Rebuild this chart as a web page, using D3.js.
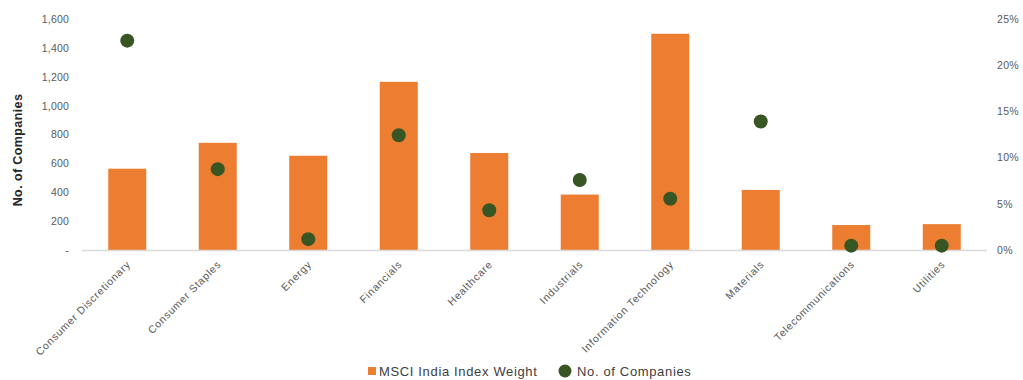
<!DOCTYPE html>
<html>
<head>
<meta charset="utf-8">
<script src="https://cdn.jsdelivr.net/npm/d3@7"></script>
<style>
  html, body { margin: 0; padding: 0; background: #ffffff; }
  svg { display: block; font-family: "Liberation Sans", Arial, sans-serif; }
</style>
</head>
<body>
<svg id="chart" width="1023" height="380"></svg>
<script>
// Sectors on the category axis
const sectors = [
  "Consumer Discretionary", "Consumer Staples", "Energy", "Financials",
  "Healthcare", "Industrials", "Information Technology", "Materials",
  "Telecommunications", "Utilities"
];
// MSCI India Index weight per sector (%), right axis
const indexWeight = [8.8, 11.6, 10.2, 18.2, 10.5, 6.0, 23.4, 6.5, 2.7, 2.8];
// Number of listed companies per sector, left axis
const companyCount = [1450, 560, 75, 795, 275, 485, 355, 890, 30, 30];

const leftTicks = [0, 200, 400, 600, 800, 1000, 1200, 1400, 1600];
const rightTicks = [0, 5, 10, 15, 20, 25];

const seriesNames = ["MSCI India Index Weight", "No. of Companies"];
const barColor = "#ED7D31";
const dotColor = "#375623";

const svg = d3.select("#chart");
const plot = { left: 82, right: 987, top: 19, bottom: 250 };

const x = d3.scaleBand().domain(sectors).range([plot.left, plot.right]).paddingInner(0.58).paddingOuter(0.29);
const yLeft = d3.scaleLinear().domain([0, 1600]).range([plot.bottom, plot.top]);
const yRight = d3.scaleLinear().domain([0, 25]).range([plot.bottom, plot.top]);

// Bars: index weight
svg.append("g").selectAll("rect").data(sectors).join("rect")
  .attr("x", d => x(d))
  .attr("width", x.bandwidth())
  .attr("y", (d, i) => yRight(indexWeight[i]))
  .attr("height", (d, i) => yRight(0) - yRight(indexWeight[i]))
  .attr("fill", barColor);

// Category baseline
svg.append("line")
  .attr("x1", plot.left).attr("x2", plot.right)
  .attr("y1", plot.bottom + 0.5).attr("y2", plot.bottom + 0.5)
  .attr("stroke", "#d9d9d9").attr("stroke-width", 1.5);

// Dots: company counts
svg.append("g").selectAll("circle").data(sectors).join("circle")
  .attr("cx", d => x(d) + x.bandwidth() / 2)
  .attr("cy", (d, i) => yLeft(companyCount[i]))
  .attr("r", 7)
  .attr("fill", dotColor);

// Left axis
const fmtLeft = v => v === 0 ? "-" : d3.format(",")(v);
const leftAxis = d3.axisLeft(yLeft).tickValues(leftTicks).tickFormat(fmtLeft).tickSize(0).tickPadding(0);
const gl = svg.append("g").attr("transform", `translate(${69},0)`).call(leftAxis);
gl.select(".domain").remove();
gl.selectAll("text").attr("fill", "#595959").style("font-size", "10.5px").style("letter-spacing", "0.2px");

// Right axis
const rightAxis = d3.axisRight(yRight).tickValues(rightTicks).tickFormat(v => v + "%").tickSize(0).tickPadding(0);
const gr = svg.append("g").attr("transform", `translate(${997},0)`).call(rightAxis);
gr.select(".domain").remove();
gr.selectAll("text").attr("fill", "#595959").style("font-size", "10.5px").style("letter-spacing", "0.3px");

// Category labels, rotated
const bottomAxis = d3.axisBottom(x).tickSize(0).tickPadding(0);
const gb = svg.append("g").attr("transform", `translate(0,${plot.bottom})`).call(bottomAxis);
gb.select(".domain").remove();
gb.selectAll(".tick text")
  .attr("text-anchor", "end")
  .attr("dy", null)
  .attr("y", 0)
  .attr("transform", "translate(4,15) rotate(-45)")
  .attr("fill", "#595959")
  .style("font-size", "10.5px")
  .style("letter-spacing", "0.75px");

// Left axis title
svg.append("text")
  .attr("transform", `translate(22,150) rotate(-90)`)
  .attr("text-anchor", "middle")
  .attr("fill", "#262626")
  .style("font-size", "12.5px")
  .style("font-weight", "bold")
  .style("letter-spacing", "0.4px")
  .text("No. of Companies");

// Legend
const legend = svg.append("g").style("font-size", "13px").style("letter-spacing", "0.65px").attr("fill", "#404040");
legend.append("rect").attr("x", 368).attr("y", 367).attr("width", 8).attr("height", 8).attr("fill", barColor);
legend.append("text").attr("x", 379).attr("y", 376).text(seriesNames[0]);
legend.append("circle").attr("cx", 565).attr("cy", 371).attr("r", 6.5).attr("fill", dotColor);
legend.append("text").attr("x", 577).attr("y", 376).text(seriesNames[1]);
</script>
</body>
</html>
